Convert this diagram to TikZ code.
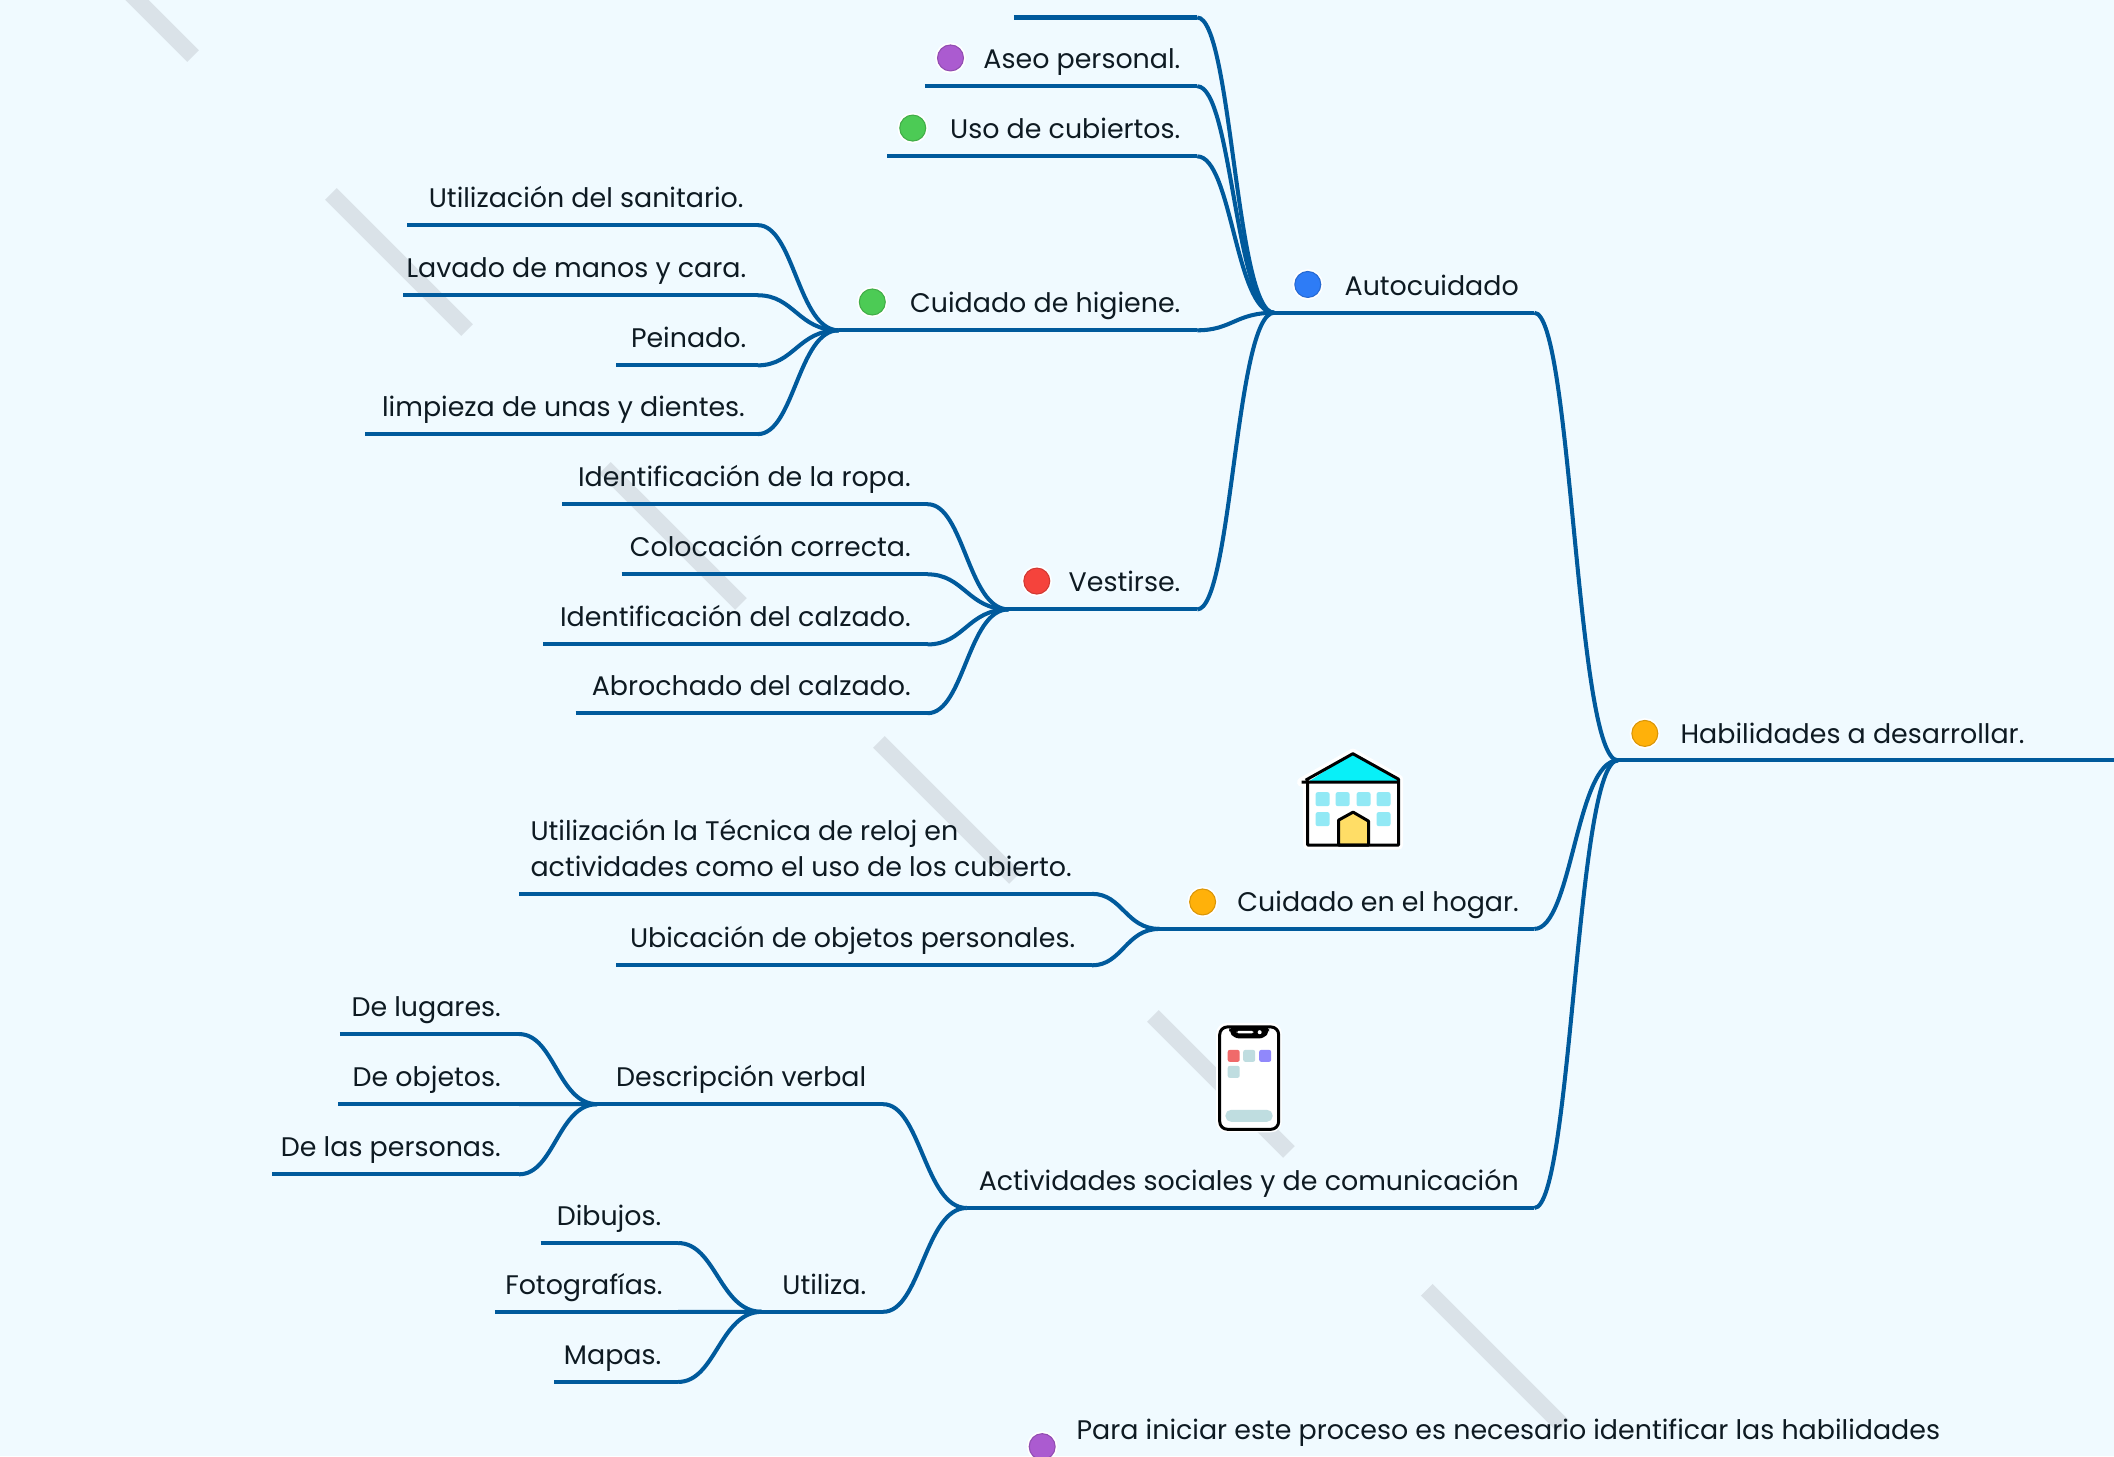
\documentclass[tikz,border=0pt]{standalone}
\usepackage{fontspec}
\setmainfont{Poppins}
\usetikzlibrary{calc, positioning}
\definecolor{paper}{HTML}{F0FAFF}
\definecolor{stripe}{HTML}{DAE2E8}
\definecolor{linkblue}{HTML}{005A9C}
\definecolor{ink}{HTML}{0E1A22}
\definecolor{dotblue}{HTML}{2E7CF6}
\definecolor{dotorange}{HTML}{FFB10A}
\definecolor{dotgreen}{HTML}{4CCB55}
\definecolor{dotred}{HTML}{F5433C}
\definecolor{dotpurple}{HTML}{AB5BD0}
\definecolor{roofcol}{HTML}{08F0F8}
\definecolor{wincol}{HTML}{92E9F5}
\definecolor{doorcol}{HTML}{FFDD66}
\tikzset{
  link/.style={line width=1.15pt, color=linkblue},
  branch/.style={
    to path={.. controls ($(\tikztostart)!0.45!(\tikztostart -| \tikztotarget)$)
      and ($(\tikztotarget)!0.5!(\tikztotarget -| \tikztostart)$) .. (\tikztotarget)}
  },
  topic/.style={
    inner sep=0pt, text=ink, font=\fontsize{7.65}{10.2}\selectfont
  },
  dot/.style={
    circle, inner sep=0pt, minimum size=0.26cm, fill=#1, draw=#1!85!black,
    line width=0.3pt, preaction={draw=white, line width=1.3pt}
  },
  icon/.style={line width=0.85pt, draw=black, line join=round}
}

\begin{document}
\begin{tikzpicture}[x=0.013482cm, y=-0.013482cm]
  \useasboundingbox[fill=paper] (0,0) rectangle (1568,1080);

  % Watermark stripes
  \foreach \s in {-1,0,1,2,3,4}
    \draw[stripe, line width=0.166cm] ({245.5+203.2*\s},{143.9+203.2*\s}) -- ++(100.9,100.9);

  % Branch ends: name / left / right / height
  \foreach \n/\xl/\xr/\y in {
    hab/1200/1568/564, auto/945/1138/232, hogar/860/1138/689, activ/717/1138/896,
    blank/752/888/13, aseo/686/888/64, uso/658/888/116, higiene/622/888/245, vestir/748/888/452,
    sanit/302/562/167, lavado/299/562/219, peinado/457/562/271, unas/271/562/322,
    ropa/417/688/374, coloc/461/688/426, idcal/403/688/478, abroch/427/688/529,
    reloj/385/810/663, objper/457/810/716,
    verbal/443/655/819, utiliza/565/655/973,
    lugares/252/385/767, objetos/251/385/819, personas/202/385/871,
    dibujos/401/503/922, fotos/367/503/973, mapas/411/503/1025}
  {
    \coordinate (\n L) at (\xl,\y);
    \coordinate (\n R) at (\xr,\y);
    \draw[link] (\n L) -- (\n R);
  }

  % Connectors
  \foreach \a/\b in {
    autoR/habL, hogarR/habL, activR/habL,
    blankR/autoL, aseoR/autoL, usoR/autoL, higieneR/autoL, vestirR/autoL,
    sanitR/higieneL, lavadoR/higieneL, peinadoR/higieneL, unasR/higieneL,
    ropaR/vestirL, colocR/vestirL, idcalR/vestirL, abrochR/vestirL,
    relojR/hogarL, objperR/hogarL,
    verbalR/activL, utilizaR/activL,
    lugaresR/verbalL, objetosR/verbalL, personasR/verbalL,
    dibujosR/utilizaL, fotosR/utilizaL, mapasR/utilizaL}
    \draw[link] (\a) to[branch] (\b);

  % Labels, set against the right end of their branch
  \foreach \n/\t/\g in {
    auto/Autocuidado/11, hogar/Cuidado en el hogar./11, activ/Actividades sociales y de comunicación/11,
    aseo/Aseo personal./12, uso/Uso de cubiertos./12, higiene/Cuidado de higiene./12, vestir/Vestirse./12,
    sanit/Utilización del sanitario./10, lavado/Lavado de manos y cara./8, peinado/Peinado./8, unas/limpieza de unas y dientes./9,
    ropa/Identificación de la ropa./12, coloc/Colocación correcta./12, idcal/Identificación del calzado./12, abroch/Abrochado del calzado./12,
    objper/Ubicación de objetos personales./12,
    verbal/Descripción verbal/12, utiliza/Utiliza./12,
    lugares/De lugares./13, objetos/De objetos./13, personas/De las personas./13,
    dibujos/Dibujos./12, fotos/Fotografías./11, mapas/Mapas./12}
    \node[topic, anchor=base east] (\n T) at ($(\n R)+(-\g,-13)$) {\t};
  \node[topic, anchor=base west] (habT) at (1246,551.5) {Habilidades a desarrollar.};
  \node[topic, anchor=south west, align=left] (relojT) at (393,651)
    {Utilización la Técnica de reloj en\\actividades como el uso de los cubierto.};
  \node[topic, anchor=base west] (inicioT) at (798,1068)
    {Para iniciar este proceso es necesario identificar las habilidades};

  % Markers
  \node[dot=dotorange] (habD) at (1220,544) {};
  \node[dot=dotblue] (autoD) at (970,211) {};
  \node[dot=dotorange] (hogarD) at (892,669) {};
  \node[dot=dotpurple] (aseoD) at (705,43) {};
  \node[dot=dotgreen] (usoD) at (677,95) {};
  \node[dot=dotgreen] (higieneD) at (647,224) {};
  \node[dot=dotred] (vestirD) at (769,431) {};
  \node[dot=dotpurple] (inicioD) at (773,1073) {};

  % House
  \begin{scope}[x=0.01cm, y=-0.01cm]
    \draw[white, line width=2.6pt, line join=round, fill=white]
      (1303,783) -- (1354.3,754) -- (1400,780) -- (1400,846) -- (1309,846) -- (1309,783) -- cycle;
    \fill[roofcol] (1309,783) -- (1354.3,754) -- (1400,780) -- (1400,783) -- cycle;
    \foreach \wx/\wy in {1317/793,1337/793,1358/793,1378/793,1317/813,1378/813}
      \fill[wincol, rounded corners=0.6pt] (\wx,\wy) rectangle ++(14,14);
    \draw[icon, fill=doorcol]
      (1340,846) -- (1340,821) -- (1354.5,813) -- (1370,822) -- (1370,846) -- cycle;
    \draw[icon] (1303,783) -- (1400,783) (1309,783) -- (1309,846) -- (1400,846) -- (1400,780)
      -- (1354.3,754.5) -- (1307,781);
  \end{scope}

  % Phone
  \begin{scope}[x=0.01cm, y=-0.01cm]
    \fill[white, rounded corners=3pt] (1217.5,1024) rectangle (1283,1133.5);
    \draw[icon, rounded corners=2.2pt] (1221,1028) rectangle (1280,1130.5);
    \fill[black, rounded corners=1.5pt] (1230.5,1027.5) -- (1270.5,1027.5) -- (1270.5,1032) -- (1266,1039.5) -- (1235,1039.5) -- (1230.5,1032) -- cycle;
    \fill[white, rounded corners=0.5pt] (1238,1032) rectangle (1255,1034.5);
    \fill[white] (1261,1033.3) circle (0.02cm);
    \foreach \ax/\ay/\ac in {1229/1051/F06A6A, 1244.5/1051/BFDDE0, 1260.5/1051/9088FB, 1229/1067/BFDDE0}{
      \definecolor{appcol}{HTML}{\ac}
      \fill[appcol, rounded corners=0.6pt] (\ax,\ay) rectangle ++(12,12);
    }
    \definecolor{barcol}{HTML}{BFDDE0}
    \fill[barcol, rounded corners=1.6pt] (1226.7,1111) rectangle (1274,1123);
  \end{scope}
\end{tikzpicture}
\end{document}
